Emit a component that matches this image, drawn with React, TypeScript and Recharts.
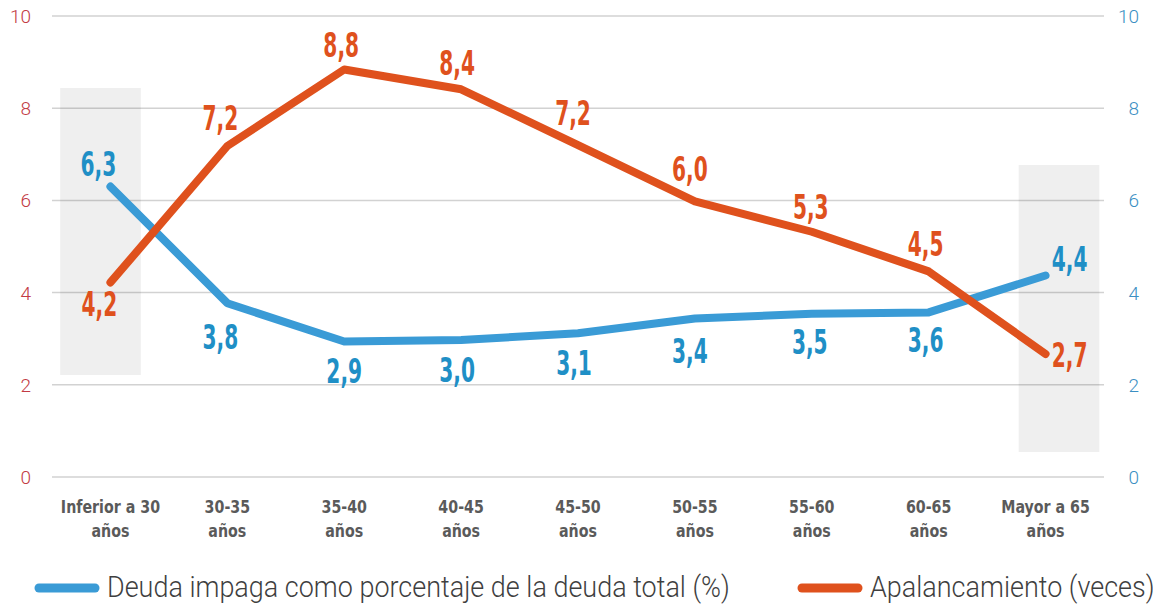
import React from "react";
import {
  CartesianGrid,
  LabelList,
  Line,
  LineChart,
  ReferenceArea,
  XAxis,
  YAxis,
} from "recharts";

const categories = [
  "Inferior a 30 años",
  "30-35 años",
  "35-40 años",
  "40-45 años",
  "45-50 años",
  "50-55 años",
  "55-60 años",
  "60-65 años",
  "Mayor a 65 años",
];

// Deuda impaga como porcentaje de la deuda total (%)
const deudaImpaga = [6.3, 3.77, 2.94, 2.97, 3.12, 3.44, 3.54, 3.57, 4.37];
// Apalancamiento (veces)
const apalancamiento = [4.22, 7.18, 8.84, 8.41, 7.2, 5.98, 5.32, 4.46, 2.67];

const yTicks = [0, 2, 4, 6, 8, 10];

// shaded highlight boxes, x in category index units, y in axis units
const highlights = [
  { x1: -0.43, x2: 0.26, y1: 2.21, y2: 8.44 },
  { x1: 7.77, x2: 8.46, y1: 0.54, y2: 6.77 },
];

const BLUE = "#3a9bd6";
const BLUE_TEXT = "#1f8fc6";
const ORANGE = "#df511d";
const RED_AXIS = "#c23a44";
const BLUE_AXIS = "#3b8fc3";

// label offsets from the point [dx, dy] to the centre of the digits
const blueOffsets = [
  [-12, -23], [-7, 34], [0, 30], [-4, 30], [-4, 30], [-5, 33], [-2, 28], [-3, 28], [24, -17],
];
const orangeOffsets = [
  [-11, 22], [-7, -28], [-3, -24], [-4, -26], [-5, -32], [-5, -32], [-1, -25], [-3, -27], [24, 1],
];

const legendItems = [
  { label: "Deuda impaga como porcentaje de la deuda total (%)", color: BLUE },
  { label: "Apalancamiento (veces)", color: ORANGE },
];

const data = categories.map((c, i) => ({
  idx: i,
  deuda: deudaImpaga[i],
  apal: apalancamiento[i],
}));

const catTicks = categories.map((_, i) => i);

const labelFont = "'Liberation Sans Narrow', 'DejaVu Sans Condensed', sans-serif";

function makeLabel(color: string, offsets: number[][]) {
  return (props: any) => {
    const { x, y, value, index } = props;
    if (x == null || y == null) return null;
    const [dx, dy] = offsets[index] || [0, -25];
    const cx = x + dx;
    const cy = y + dy;
    return (
      <text
        transform={`translate(${cx},${cy + 12}) scale(0.68,1)`}
        textAnchor="middle"
        fontFamily={labelFont}
        fontWeight={700}
        fontSize={33}
        fill={color}
      >
        {Number(value).toFixed(1).replace(".", ",")}
      </text>
    );
  };
}

function CatTick(props: any) {
  const { x, y, payload } = props;
  const s: string = categories[payload.value] ?? "";
  const cut = s.lastIndexOf(" ");
  const l1 = s.slice(0, cut);
  const l2 = s.slice(cut + 1);
  return (
    <text
      transform={`translate(${x},${y}) scale(0.93,1)`}
      textAnchor="middle"
      fontFamily={labelFont}
      fontWeight={700}
      fontSize={17}
      fill="#5a5a5a"
    >
      <tspan x={0} y={36}>{l1}</tspan>
      <tspan x={0} y={60}>{l2}</tspan>
    </text>
  );
}

function LeftTick(props: any) {
  const { x, y, payload } = props;
  return (
    <text x={x} y={y + 7} textAnchor="end" fontFamily="Roboto" fontWeight={300} fontSize={19} fill={RED_AXIS}>
      {payload.value}
    </text>
  );
}

function RightTick(props: any) {
  const { x, y, payload } = props;
  return (
    <text x={x} y={y + 7} textAnchor="end" fontFamily="Roboto" fontWeight={300} fontSize={19} fill={BLUE_AXIS}>
      {payload.value}
    </text>
  );
}

export default function App() {
  return (
    <div style={{ position: "absolute", left: 0, top: 0, width: 1153, height: 605, background: "#fff" }}>
      <LineChart width={1153} height={605} data={data} margin={{ top: 16, right: 0, left: 0, bottom: 58 }}>
        <CartesianGrid vertical={false} yAxisId="left" stroke="#d2d2d2" strokeWidth={1.5} />
        <XAxis
          dataKey="idx"
          type="number"
          domain={[-0.5, 8.5]}
          ticks={catTicks}
          height={70}
          axisLine={false}
          tickLine={false}
          tickSize={0}
          tickMargin={0}
          interval={0}
          tick={<CatTick />}
        />
        <YAxis
          yAxisId="left"
          width={52}
          domain={[0, 10]}
          ticks={yTicks}
          axisLine={false}
          tickLine={false}
          tickSize={0}
          tickMargin={21}
          tick={<LeftTick />}
        />
        <YAxis
          yAxisId="right"
          orientation="right"
          width={49}
          domain={[0, 10]}
          ticks={yTicks}
          axisLine={false}
          tickLine={false}
          tickSize={0}
          tickMargin={35}
          tick={<RightTick />}
        />
        {highlights.map((h, i) => (
          <ReferenceArea
            key={i}
            yAxisId="left"
            x1={h.x1}
            x2={h.x2}
            y1={h.y1}
            y2={h.y2}
            fill="#000"
            fillOpacity={0.063}
            stroke="none"
            ifOverflow="visible"
          />
        ))}
        <Line
          yAxisId="left"
          dataKey="deuda"
          stroke={BLUE}
          strokeWidth={8}
          strokeLinecap="round"
          strokeLinejoin="round"
          dot={false}
          activeDot={false}
          isAnimationActive={false}
        >
          <LabelList dataKey="deuda" content={makeLabel(BLUE_TEXT, blueOffsets)} />
        </Line>
        <Line
          yAxisId="right"
          dataKey="apal"
          stroke={ORANGE}
          strokeWidth={8}
          strokeLinecap="round"
          strokeLinejoin="round"
          dot={false}
          activeDot={false}
          isAnimationActive={false}
        >
          <LabelList dataKey="apal" content={makeLabel(ORANGE, orangeOffsets)} />
        </Line>
      </LineChart>
      <svg width={1153} height={605} style={{ position: "absolute", left: 0, top: 0, pointerEvents: "none" }}>
        {legendItems.map((item, i) => {
          const x0 = i === 0 ? 39 : 802;
          return (
            <g key={item.label}>
              <line x1={x0} y1={588} x2={x0 + 56} y2={588} stroke={item.color} strokeWidth={9} strokeLinecap="round" />
              <text
                transform={`translate(${x0 + 68},597) scale(0.93,1)`}
                fontFamily="Roboto"
                fontWeight={300}
                fontSize={29}
                fill="#3f3f3f"
              >
                {item.label}
              </text>
            </g>
          );
        })}
      </svg>
    </div>
  );
}
